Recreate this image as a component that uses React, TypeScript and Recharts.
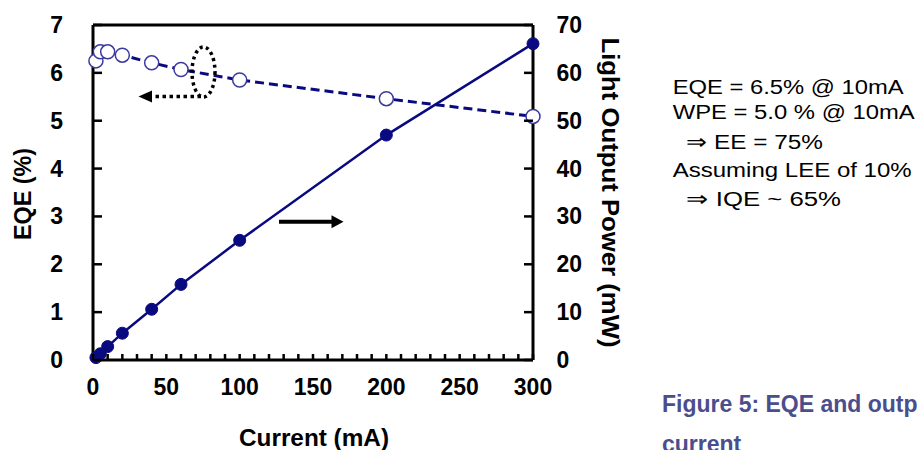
import React from 'react';
import { ComposedChart, Line, XAxis, YAxis, ReferenceLine } from 'recharts';

const currents = [2, 5, 10, 20, 40, 60, 100, 200, 300];
const eqeValues = [6.25, 6.44, 6.44, 6.37, 6.21, 6.07, 5.85, 5.46, 5.09];
const powerValues = [0.5, 1.3, 2.8, 5.6, 10.6, 15.8, 25.0, 47.0, 66.1];

const currentTicks = [
  0, 10, 20, 30, 40, 50, 60, 70, 80, 90, 100, 110, 120, 130, 140, 150,
  160, 170, 180, 190, 200, 210, 220, 230, 240, 250, 260, 270, 280, 290, 300,
];
const currentLabels = [0, 50, 100, 150, 200, 250, 300];
const eqeTicks = [0, 1, 2, 3, 4, 5, 6, 7];
const powerTicks = [0, 10, 20, 30, 40, 50, 60, 70];

const notes = [
  'EQE = 6.5% @ 10mA',
  'WPE = 5.0 % @ 10mA',
  '\u21D2 EE = 75%',
  'Assuming LEE of 10%',
  '\u21D2 IQE  ~ 65%',
];

const data = currents.map((current, i) => ({
  current,
  eqe: eqeValues[i],
  power: powerValues[i],
}));

const FONT = '"Liberation Sans", Arial, Helvetica, sans-serif';
const NAVY = '#0a0a80';

const tickText = {
  fontFamily: FONT,
  fontWeight: 700,
  fontSize: 23,
  fill: '#000',
};

// ticks point into the plot, labels sit outside
const BottomTick = (props: any) => {
  const { x, y, payload } = props;
  const v = payload.value;
  return (
    <g>
      <line x1={x} y1={y} x2={x} y2={y - 6} stroke="#000" strokeWidth={2.5} />
      {currentLabels.includes(v) && (
        <text x={x} y={y + 35} textAnchor="middle" {...tickText}>
          {v}
        </text>
      )}
    </g>
  );
};

const LeftTick = (props: any) => {
  const { x, y, payload } = props;
  return (
    <g>
      <line x1={x} y1={y} x2={x + 9} y2={y} stroke="#000" strokeWidth={2.5} />
      <text x={x - 30} y={y + 8} textAnchor="end" {...tickText}>
        {payload.value}
      </text>
    </g>
  );
};

const RightTick = (props: any) => {
  const { x, y, payload } = props;
  return (
    <g>
      <line x1={x} y1={y} x2={x - 9} y2={y} stroke="#000" strokeWidth={2.5} />
      <text x={x + 23.5} y={y + 8} textAnchor="start" {...tickText}>
        {payload.value}
      </text>
    </g>
  );
};

const axisTitle = {
  fontFamily: FONT,
  fontWeight: 700,
  fontSize: 23,
  fill: '#000',
};

export default function App() {
  return (
    <div style={{ position: 'fixed', left: 0, top: 0, width: 917, height: 450, background: '#fff' }}>
      <ComposedChart
        width={917}
        height={450}
        data={data}
        margin={{ top: 25, right: 284, bottom: 30, left: 0 }}
      >
        <XAxis
          xAxisId="x"
          dataKey="current"
          type="number"
          domain={[0, 300]}
          ticks={currentTicks}
          interval={0}
          height={60}
          tickSize={0}
          tickMargin={0}
          tickLine={false}
          tick={<BottomTick />}
          axisLine={{ stroke: '#000', strokeWidth: 3 }}
          label={{
            content: ({ viewBox }: any) => (
              <text
                x={viewBox.x + viewBox.width / 2 + 1}
                y={viewBox.y + 86}
                textAnchor="middle"
                textLength={150}
                lengthAdjust="spacingAndGlyphs"
                {...axisTitle}
              >
                Current (mA)
              </text>
            ),
          }}
        />
        <YAxis
          yAxisId="eqe"
          type="number"
          domain={[0, 7]}
          ticks={eqeTicks}
          interval={0}
          width={93}
          tickSize={0}
          tickMargin={0}
          tickLine={false}
          tick={<LeftTick />}
          axisLine={{ stroke: '#000', strokeWidth: 3 }}
          label={{
            content: ({ viewBox }: any) => (
              <text
                transform={`translate(${viewBox.x + 31},${viewBox.y + viewBox.height / 2 + 1.5}) rotate(-90)`}
                textAnchor="middle"
                textLength={92}
                lengthAdjust="spacingAndGlyphs"
                {...axisTitle}
              >
                EQE (%)
              </text>
            ),
          }}
        />
        <YAxis
          yAxisId="power"
          orientation="right"
          type="number"
          domain={[0, 70]}
          ticks={powerTicks}
          interval={0}
          width={100}
          tickSize={0}
          tickMargin={0}
          tickLine={false}
          tick={<RightTick />}
          axisLine={{ stroke: '#000', strokeWidth: 3 }}
          label={{
            content: ({ viewBox }: any) => (
              <text
                transform={`translate(${viewBox.x + 69},${viewBox.y + viewBox.height / 2}) rotate(90)`}
                textAnchor="middle"
                textLength={310}
                lengthAdjust="spacingAndGlyphs"
                {...axisTitle}
              >
                Light Output Power (mW)
              </text>
            ),
          }}
        />
        {/* top edge of the frame */}
        <ReferenceLine xAxisId="x" yAxisId="eqe" y={7} stroke="#000" strokeWidth={3} />
        <Line
          xAxisId="x"
          yAxisId="power"
          type="linear"
          dataKey="power"
          stroke={NAVY}
          strokeWidth={2.5}
          dot={{ r: 6, fill: NAVY, stroke: NAVY, strokeWidth: 1 }}
          isAnimationActive={false}
        />
        <Line
          xAxisId="x"
          yAxisId="eqe"
          type="linear"
          dataKey="eqe"
          stroke={NAVY}
          strokeWidth={3}
          strokeDasharray="9 5"
          dot={{ r: 7, fill: '#fff', stroke: '#3a3aa0', strokeWidth: 1.5, strokeDasharray: 'none' }}
          isAnimationActive={false}
        />
      </ComposedChart>

      {/* annotations and side text */}
      <svg
        width={917}
        height={450}
        style={{ position: 'absolute', left: 0, top: 0, pointerEvents: 'none' }}
      >
        <ellipse cx={203.5} cy={72} rx={11.5} ry={25} fill="none" stroke="#000" strokeWidth={3.5} strokeDasharray="3 3.5" />
        <line x1={201} y1={96.5} x2={152} y2={96.5} stroke="#000" strokeWidth={3.5} strokeDasharray="3.5 3.5" />
        <polygon points="138.5,96.5 152,90.5 152,102.5" fill="#000" />
        <line x1={279} y1={221.7} x2={333} y2={221.7} stroke="#000" strokeWidth={4} />
        <polygon points="343.5,221.7 331.5,215.2 331.5,228.2" fill="#000" />

        <g fontFamily={FONT} fontSize={20.5} fill="#000">
          <text x={672.7} y={94} textLength={231} lengthAdjust="spacingAndGlyphs">{notes[0]}</text>
          <text x={672.7} y={119} textLength={242} lengthAdjust="spacingAndGlyphs">{notes[1]}</text>
          <text x={686} y={148.5} textLength={137} lengthAdjust="spacingAndGlyphs">{notes[2]}</text>
          <text x={672.7} y={176.5} textLength={239} lengthAdjust="spacingAndGlyphs">{notes[3]}</text>
          <text x={686} y={206} textLength={155} lengthAdjust="spacingAndGlyphs">{notes[4]}</text>
        </g>

        <g fontFamily={FONT} fontSize={23} fontWeight={700} fill="#4b4e8c">
          <text x={662} y={411.5}>Figure 5: EQE and output power versus</text>
          <text x={662} y={452}>current</text>
        </g>
      </svg>
    </div>
  );
}
